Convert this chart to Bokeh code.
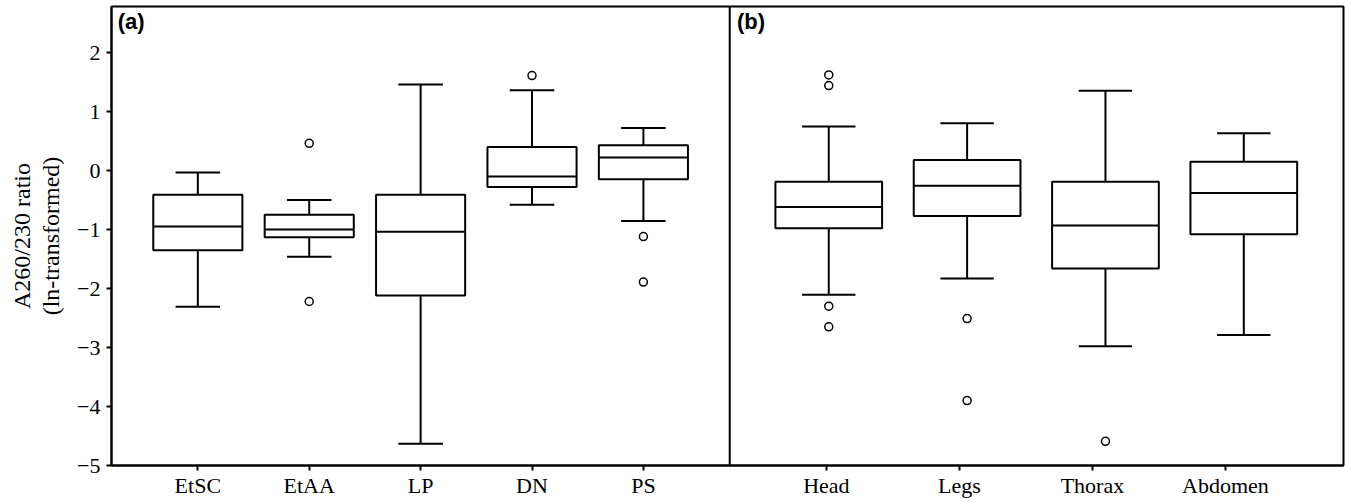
from bokeh.plotting import figure
from bokeh.models import Range1d, FixedTicker, Span, Label
from bokeh.embed import file_html
from bokeh.resources import INLINE

# ---------------- data ----------------
cats_a = ["EtSC", "EtAA", "LP", "DN", "PS"]
lower_a = [-2.31, -1.46, -4.63, -0.58, -0.855]
q1_a = [-1.35, -1.13, -2.12, -0.28, -0.15]
med_a = [-0.95, -1.00, -1.04, -0.10, 0.22]
q3_a = [-0.41, -0.75, -0.41, 0.40, 0.43]
upper_a = [-0.035, -0.50, 1.46, 1.36, 0.72]
out_a_cat = ["EtAA", "EtAA", "DN", "PS", "PS"]
out_a_val = [0.46, -2.22, 1.61, -1.12, -1.89]

cats_b = ["Head", "Legs", "Thorax", "Abdomen"]
lower_b = [-2.105, -1.83, -2.98, -2.79]
q1_b = [-0.98, -0.77, -1.66, -1.08]
med_b = [-0.62, -0.26, -0.93, -0.38]
q3_b = [-0.19, 0.18, -0.19, 0.15]
upper_b = [0.745, 0.80, 1.35, 0.63]
out_b_cat = ["Head", "Head", "Head", "Head", "Legs", "Legs", "Thorax"]
out_b_val = [1.62, 1.44, -2.30, -2.65, -2.51, -3.90, -4.59]

y_ticks = [-5, -4, -3, -2, -1, 0, 1, 2]

# ---------------- layout ----------------
x_start = 0.225
divider = 5.775
x_end = x_start + 11.06
pos_a = {c: i + 1.0 for i, c in enumerate(cats_a)}
pos_b = {c: round(divider + 0.889 + 1.242 * j, 4) for j, c in enumerate(cats_b)}
tick_b = {c: round(divider + 0.868 + 1.194 * j, 4) for j, c in enumerate(cats_b)}
box_w_a = 0.8
box_w_b = 0.958

FONT = "Liberation Serif"

p = figure(frame_width=1232, frame_height=459, x_range=Range1d(x_start, x_end),
           y_range=Range1d(-5, 2.78), output_backend="svg", toolbar_location=None,
           min_border_left=111, min_border_right=2, min_border_top=6, min_border_bottom=0)
p.background_fill_color = "white"
p.border_fill_color = "white"
p.outline_line_color = "black"
p.outline_line_width = 2
p.xgrid.visible = False
p.ygrid.visible = False


def draw_boxes(cats, pos, w, lower, q1, med, q3, upper):
    xs = [pos[c] for c in cats]
    p.segment(x0=xs, y0=q3, x1=xs, y1=upper, line_color="black", line_width=2)
    p.segment(x0=xs, y0=q1, x1=xs, y1=lower, line_color="black", line_width=2)
    cap_l = [x - w / 4 for x in xs]
    cap_r = [x + w / 4 for x in xs]
    p.segment(x0=cap_l, y0=upper, x1=cap_r, y1=upper, line_color="black", line_width=2)
    p.segment(x0=cap_l, y0=lower, x1=cap_r, y1=lower, line_color="black", line_width=2)
    p.vbar(x=xs, width=w, bottom=q1, top=q3, fill_color="white",
           line_color="black", line_width=2)
    box_l = [x - w / 2 for x in xs]
    box_r = [x + w / 2 for x in xs]
    p.segment(x0=box_l, y0=med, x1=box_r, y1=med, line_color="black", line_width=2)


draw_boxes(cats_a, pos_a, box_w_a, lower_a, q1_a, med_a, q3_a, upper_a)
draw_boxes(cats_b, pos_b, box_w_b, lower_b, q1_b, med_b, q3_b, upper_b)

p.scatter(x=[pos_a[c] for c in out_a_cat], y=out_a_val, marker="circle", size=8,
          fill_color="white", line_color="black", line_width=1.5)
p.scatter(x=[pos_b[c] for c in out_b_cat], y=out_b_val, marker="circle", size=8,
          fill_color="white", line_color="black", line_width=1.5)

p.add_layout(Span(location=divider, dimension="height", line_color="black", line_width=2))

for txt, xx in [("(a)", x_start + 0.055), ("(b)", divider + 0.065)]:
    p.add_layout(Label(x=xx, y=2.74, text=txt, text_font="Liberation Sans",
                       text_font_style="bold", text_font_size="22px",
                       text_baseline="top", text_align="left", text_color="black"))

# x axis
xt = [pos_a[c] for c in cats_a] + [tick_b[c] for c in cats_b]
p.xaxis.ticker = FixedTicker(ticks=xt)
overrides = {pos_a[c]: c for c in cats_a}
overrides.update({tick_b[c]: c for c in cats_b})
p.xaxis.major_label_overrides = overrides
p.xaxis.axis_label = None
p.xaxis.axis_label_standoff = 0
p.xaxis.minor_tick_line_color = None
p.xaxis.major_tick_in = 0
p.xaxis.major_tick_out = 5
p.xaxis.major_tick_line_width = 2
p.xaxis.axis_line_width = 2
p.xaxis.major_label_standoff = 2
p.xaxis.major_label_text_font = FONT
p.xaxis.major_label_text_font_size = "22px"
p.xaxis.major_label_text_color = "black"

# y axis
p.yaxis.ticker = FixedTicker(ticks=y_ticks)
p.yaxis.major_label_overrides = {t: (str(t).replace("-", "\u2212")) for t in y_ticks}
p.yaxis.minor_tick_line_color = None
p.yaxis.major_tick_in = 0
p.yaxis.major_tick_out = 5
p.yaxis.major_tick_line_width = 2
p.yaxis.axis_line_width = 2
p.yaxis.major_label_standoff = 6
p.yaxis.major_label_text_font = FONT
p.yaxis.major_label_text_font_size = "22px"
p.yaxis.major_label_text_color = "black"
p.yaxis.axis_label = "A260/230 ratio\n(ln-transformed)"
p.yaxis.axis_label_text_font = FONT
p.yaxis.axis_label_text_font_size = "24px"
p.yaxis.axis_label_text_line_height = 1.12
p.yaxis.axis_label_text_font_style = "normal"
p.yaxis.axis_label_text_color = "black"
p.yaxis.axis_label_standoff = 10

open("out.html", "w").write(file_html(p, INLINE))
